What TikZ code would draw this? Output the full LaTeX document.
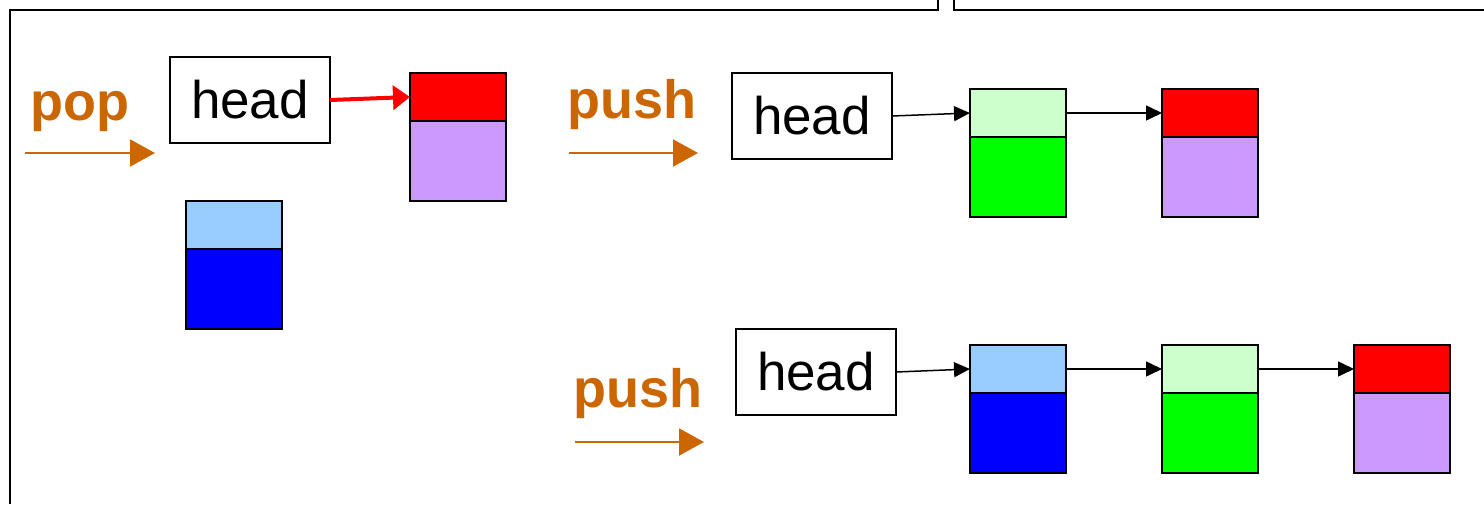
\documentclass[tikz,border=0pt]{standalone}
\usepackage{fontspec}
\setmainfont{Liberation Sans}
\usetikzlibrary{arrows.meta}
\definecolor{opcol}{RGB}{204,102,0}
\definecolor{lblue}{RGB}{153,204,255}
\definecolor{lgreen}{RGB}{204,255,204}
\definecolor{lpurple}{RGB}{204,153,255}
\begin{document}
\begin{tikzpicture}[x=1pt,y=-1pt,
  frame/.style={line width=2pt,black},
  headbox/.style={draw=black,line width=1.6pt,minimum width=160pt,minimum height=86pt,
    inner sep=0pt,outer sep=0pt,anchor=north west,font=\fontsize{53}{60}\selectfont},
  topcell/.style={draw=black,line width=2pt,minimum width=96pt,minimum height=48pt,
    inner sep=0pt,outer sep=0pt,anchor=north west},
  botcell/.style={draw=black,line width=2pt,minimum width=96pt,minimum height=80pt,
    inner sep=0pt,outer sep=0pt,anchor=north west},
  oplabel/.style={text=opcol,font=\bfseries\fontsize{54}{60}\selectfont,anchor=base west,inner sep=0pt},
  oparrow/.style={draw=opcol,line width=2pt,-{Triangle[length=25pt,width=27pt]}},
  link/.style={draw=black,line width=1.5pt,-{Triangle[length=16pt,width=15pt]}},
  poplink/.style={draw=red,line width=4pt,-{Triangle[length=17pt,width=24pt]}}
]
\useasboundingbox (0,0) rectangle (1484,504);

% outer frames
\draw[frame] (10,504) -- (10,10) -- (938,10) -- (938,0);
\draw[frame] (954,0) -- (954,10) -- (1484,10);

% ---- pop ----
\node[oplabel] (poplbl) at (30,120) {pop};
\coordinate (popA) at (25,153);
\coordinate (popB) at (155,153);
\draw[oparrow] (popA) -- (popB);

\node[headbox] (head1) at (170,57) {head};
\node[topcell,fill=red] (r1t) at (410,73) {};
\node[botcell,fill=lpurple] (r1b) at (410,121) {};
\node[topcell,fill=lblue] (b1t) at (186,201) {};
\node[botcell,fill=blue] (b1b) at (186,249) {};
\draw[poplink] (head1.east) -- (r1t.west);

% ---- push (first) ----
\node[oplabel] (push1lbl) at (567,118) {push};
\coordinate (p1A) at (569,153);
\coordinate (p1B) at (698,153);
\draw[oparrow] (p1A) -- (p1B);

\node[headbox] (head2) at (732,73) {head};
\node[topcell,fill=lgreen] (g2t) at (970,89) {};
\node[botcell,fill=green] (g2b) at (970,137) {};
\node[topcell,fill=red] (r2t) at (1162,89) {};
\node[botcell,fill=lpurple] (r2b) at (1162,137) {};
\draw[link] (head2.east) -- (g2t.west);
\draw[link] (g2t.east) -- (r2t.west);

% ---- push (second) ----
\node[oplabel] (push2lbl) at (573,407) {push};
\coordinate (p2A) at (575,442);
\coordinate (p2B) at (704,442);
\draw[oparrow] (p2A) -- (p2B);

\node[headbox] (head3) at (736,329) {head};
\node[topcell,fill=lblue] (b3t) at (970,345) {};
\node[botcell,fill=blue] (b3b) at (970,393) {};
\node[topcell,fill=lgreen] (g3t) at (1162,345) {};
\node[botcell,fill=green] (g3b) at (1162,393) {};
\node[topcell,fill=red] (r3t) at (1354,345) {};
\node[botcell,fill=lpurple] (r3b) at (1354,393) {};
\draw[link] (head3.east) -- (b3t.west);
\draw[link] (b3t.east) -- (g3t.west);
\draw[link] (g3t.east) -- (r3t.west);
\end{tikzpicture}
\end{document}
